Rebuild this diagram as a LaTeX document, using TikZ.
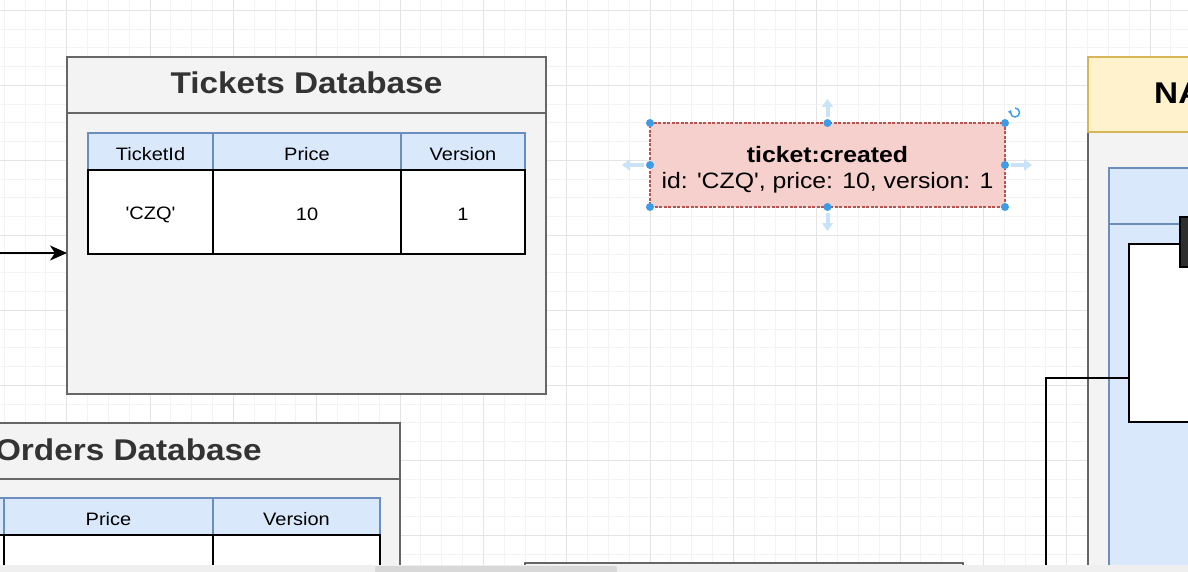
\documentclass[tikz,border=0pt]{standalone}
\usepackage{fontspec}
\setmainfont{Liberation Sans}[Ligatures=TeXOff]
\usepackage{graphicx}
\usetikzlibrary{arrows.meta}
\definecolor{gridmin}{HTML}{F3F3F3}
\definecolor{gridmaj}{HTML}{E4E4E4}
\definecolor{cgfill}{HTML}{F3F3F3}
\definecolor{cgline}{HTML}{666666}
\definecolor{ctitle}{HTML}{333333}
\definecolor{bfill}{HTML}{DAE8FC}
\definecolor{bline}{HTML}{6C8EBF}
\definecolor{rfill}{HTML}{F5D0CD}
\definecolor{rline}{HTML}{B85450}
\definecolor{yfill}{HTML}{FFF2CC}
\definecolor{yline}{HTML}{D6B656}
\definecolor{handle}{HTML}{3E9CE6}
\definecolor{hover}{HTML}{C8E3F7}
\definecolor{sbar}{HTML}{EFEFEF}
\definecolor{sthumb}{HTML}{D8D8D8}
\definecolor{dark}{HTML}{2E2E2E}
\newcommand\hsx[1]{\scalebox{1.111}[1]{#1}}
\newcommand\cellt[1]{\raisebox{-2.5pt}[\height][\depth]{\scalebox{1.111}[1]{#1}}}
\newcommand\fsz[1]{\fontsize{#1}{#1}\selectfont}
\tikzset{
  box/.style={inner sep=0pt, outer sep=0pt, anchor=north west},
  container/.style={box, draw=cgline, fill=cgfill, line width=1.6pt},
  natshead/.style={box, draw=yline, fill=yfill, line width=1.6pt},
  hdrcell/.style={box, draw=bline, fill=bfill, line width=1.5pt, font=\fsz{18}},
  bodycell/.style={box, draw=black, fill=white, line width=2pt, font=\fsz{18}},
  evtbox/.style={box, draw=rline, fill=rfill, line width=1.2pt, dash pattern=on 3pt off 1.5pt},
  titletext/.style={anchor=base, inner sep=0pt, font=\fsz{30}\bfseries},
  evttext/.style={anchor=base, inner sep=0pt, font=\fsz{22.3}},
  conn/.style={draw=black, line width=1.8pt},
  hdot/.style={circle, fill=handle, inner sep=0pt, minimum size=8pt},
  hoverarrow/.style={draw=hover, line width=4pt, -{Triangle[length=8pt,width=11pt]}},
}
\begin{document}
\begin{tikzpicture}[x=1pt,y=-1pt]
\useasboundingbox (0,0) rectangle (1188,572);
\fill[white] (0,0) rectangle (1188,572);
% grid
\foreach \i in {0,...,57} \draw[gridmin, line width=0.8pt] ({4.17+20.833*\i},0) -- ++(0,572);
\foreach \i in {0,...,30} \draw[gridmin, line width=0.8pt] (0,{10.33+18.75*\i}) -- ++(1188,0);
\foreach \i in {0,...,15} \draw[gridmaj, line width=0.8pt] ({-16.67+83.333*\i},0) -- ++(0,572);
\foreach \i in {0,...,7} \draw[gridmaj, line width=0.8pt] (0,{10.33+75*\i}) -- ++(1188,0);

% Tickets Database
\node[container, minimum width=479pt, minimum height=337pt] (tdb) at (67,57) {};
\node[container, minimum width=479pt, minimum height=56pt] (tdbhead) at (67,57) {};
\node[titletext, text=ctitle] (tdbtitle) at (306.5,94) {\hsx{Tickets Database}};
\node[hdrcell, minimum width=125pt, minimum height=37pt] (th1) at (88,133) {\cellt{TicketId}};
\node[hdrcell, minimum width=188pt, minimum height=37pt] (th2) at (213,133) {\cellt{Price}};
\node[hdrcell, minimum width=124pt, minimum height=37pt] (th3) at (401,133) {\cellt{Version}};
\node[bodycell, minimum width=125pt, minimum height=84pt] (tb1) at (88,170) {\cellt{'CZQ'}};
\node[bodycell, minimum width=188pt, minimum height=84pt] (tb2) at (213,170) {\cellt{10}};
\node[bodycell, minimum width=124pt, minimum height=84pt] (tb3) at (401,170) {\cellt{1}};
\coordinate (ain) at (-2,253);
\draw[conn, -{Stealth[length=17pt,width=15pt,inset=5pt]}] (ain) -- (ain -| tdb.west);

% Orders Database
\node[container, minimum width=550pt, minimum height=220pt] (odb) at (-150,423) {};
\node[container, minimum width=550pt, minimum height=56pt] (odbhead) at (-150,423) {};
\node[titletext, text=ctitle, anchor=base east] (odbtitle) at (262,460) {\hsx{Orders Database}};
\node[hdrcell, minimum width=60pt, minimum height=37pt] (oh0) at (-56,498) {};
\node[hdrcell, minimum width=209pt, minimum height=37pt] (oh1) at (4,498) {\cellt{Price}};
\node[hdrcell, minimum width=167pt, minimum height=37pt] (oh2) at (213,498) {\cellt{Version}};
\node[bodycell, minimum width=60pt, minimum height=80pt] (ob0) at (-56,535) {};
\node[bodycell, minimum width=209pt, minimum height=80pt] (ob1) at (4,535) {};
\node[bodycell, minimum width=167pt, minimum height=80pt] (ob2) at (213,535) {};

% bottom container (partly visible)
\node[container, minimum width=438pt, minimum height=60pt] (bbox) at (525,563) {};

% event
\node[evtbox, minimum width=355pt, minimum height=84pt] (evt) at (650,123) {};
\node[evttext, font=\fsz{22.3}\bfseries] (evt1) at (827.5,162.5) {\hsx{ticket:created}};
\node[evttext] (evt2) at (827.5,188.5) {\hsx{id: 'CZQ', price: 10, version: 1}};
% selection handles
\foreach \p in {north west,north,north east,west,east,south west,south,south east}
  \node[hdot] at (evt.\p) {};
\draw[hoverarrow] (827.5,117) -- (827.5,99);
\draw[hoverarrow] (827.5,213) -- (827.5,231);
\draw[hoverarrow] (644,165) -- (622,165);
\draw[hoverarrow] (1011,165) -- (1032,165);
\draw[handle, line width=1.4pt, -{Triangle[length=3pt,width=4pt]}] (1015,108) arc[start angle=90, end angle=-210, radius=4.5pt];

% NATS
\node[container, minimum width=200pt, minimum height=500pt] (nats) at (1088,132) {};
\node[natshead, minimum width=200pt, minimum height=75pt] (natshead) at (1088,57) {};
\node[titletext, text=black, anchor=base west] (natstitle) at (1154,104) {\hsx{NA}};
\node[hdrcell, minimum width=150pt, minimum height=500pt] (nbody) at (1109,224) {};
\node[hdrcell, minimum width=150pt, minimum height=56pt] (nhead) at (1109,168) {};
\node[bodycell, minimum width=150pt, minimum height=178pt] (wbox) at (1129,244) {};
\node[box, draw=black, fill=dark, line width=1.5pt, minimum width=40pt, minimum height=50pt] (dbox) at (1180,217) {};
\coordinate (elbow) at (1046,378);
\coordinate (cend) at (1046,600);
\draw[conn] (elbow -| wbox.west) -- (elbow) -- (cend);

% scrollbar strip
\fill[sbar] (0,565) rectangle (1188,573);
\fill[sthumb, rounded corners=2pt] (375,566) rectangle (617,573);
\end{tikzpicture}
\end{document}
